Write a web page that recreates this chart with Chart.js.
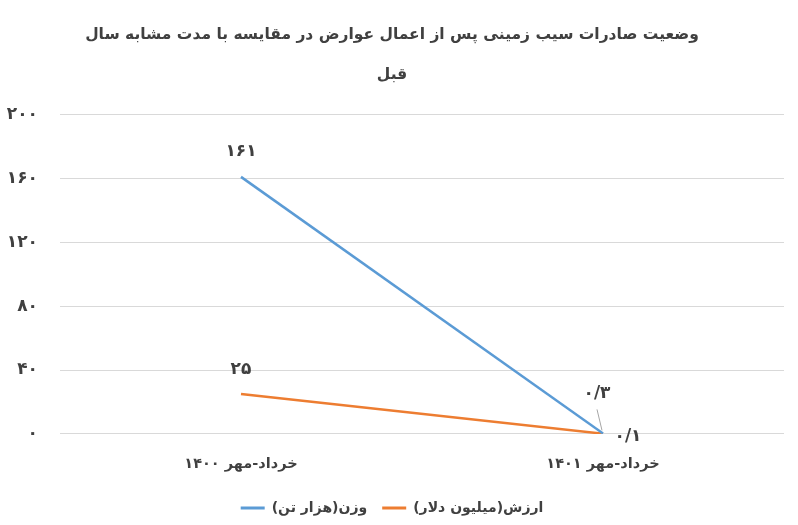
<!DOCTYPE html>
<html>
<head>
<meta charset="utf-8">
<script src="https://cdn.jsdelivr.net/npm/chart.js@4"></script>
<style>
  html, body { margin: 0; padding: 0; background: #fff; }
  #wrap { width: 798px; height: 525px; }
</style>
</head>
<body>
<div id="wrap"><canvas id="c" width="798" height="525"></canvas></div>
<script>
const categories = ['خرداد-مهر ۱۴۰۰', 'خرداد-مهر ۱۴۰۱'];
const weightValues = [161, 0.3];
const valueValues = [25, 0.1];
const weightLabels = ['۱۶۱', '۰/۳'];
const valueLabels = ['۲۵', '۰/۱'];
const seriesNames = ['وزن(هزار تن)', 'ارزش(میلیون دلار)'];
const yTickLabels = ['۰', '۴۰', '۸۰', '۱۲۰', '۱۶۰', '۲۰۰'];
const titleLines = ['وضعیت صادرات سیب زمینی پس از اعمال عوارض در مقایسه با مدت مشابه سال', 'قبل'];

const FONT = '"DejaVu Sans", sans-serif';
const TEXT = '#404040';
const BLUE = '#5B9BD5';
const ORANGE = '#ED7D31';

const labelPlugin = {
  id: 'valueLabels',
  afterDatasetsDraw(chart) {
    const ctx = chart.ctx;
    ctx.save();
    ctx.font = 'bold 17px ' + FONT;
    ctx.fillStyle = TEXT;
    ctx.textBaseline = 'middle';
    ctx.textAlign = 'center';
    ctx.direction = 'rtl';
    const m0 = chart.getDatasetMeta(0).data;
    const m1 = chart.getDatasetMeta(1).data;
    // weight series
    ctx.fillText(weightLabels[0], m0[0].x, m0[0].y - 25);
    ctx.fillText(weightLabels[1], m0[1].x - 6, m0[1].y - 40);
    // leader line
    ctx.strokeStyle = '#A6A6A6';
    ctx.lineWidth = 1;
    ctx.beginPath();
    ctx.moveTo(m0[1].x - 6, m0[1].y - 24);
    ctx.lineTo(m0[1].x - 1, m0[1].y - 3);
    ctx.stroke();
    // value series
    ctx.fillText(valueLabels[0], m1[0].x, m1[0].y - 24);
    ctx.fillText(valueLabels[1], m1[1].x + 25, m1[1].y + 3);
    ctx.restore();
  }
};

new Chart(document.getElementById('c'), {
  type: 'line',
  data: {
    labels: categories,
    datasets: [
      { label: seriesNames[0], data: weightValues, borderColor: BLUE, backgroundColor: BLUE, borderWidth: 2.5, pointRadius: 0, tension: 0 },
      { label: seriesNames[1], data: valueValues, borderColor: ORANGE, backgroundColor: ORANGE, borderWidth: 2.5, pointRadius: 0, tension: 0 }
    ]
  },
  options: {
    responsive: false,
    animation: false,
    layout: { padding: { left: 0, right: 14, top: 0, bottom: 0 } },
    plugins: {
      title: {
        display: true,
        text: titleLines,
        color: TEXT,
        font: { family: FONT, size: 15.5, weight: 'bold', lineHeight: 2.6 },
        padding: { top: 15, bottom: 19 }
      },
      legend: {
        position: 'bottom',
        labels: {
          color: TEXT,
          font: { family: FONT, size: 14, weight: 'bold' },
          boxWidth: 24,
          boxHeight: 3,
          padding: 15,
          generateLabels(chart) {
            return Chart.defaults.plugins.legend.labels.generateLabels(chart).map(l => Object.assign(l, { lineWidth: 0 }));
          }
        }
      },
      tooltip: { enabled: false }
    },
    scales: {
      x: {
        offset: true,
        grid: { display: false },
        border: { display: false },
        ticks: { color: TEXT, font: { family: FONT, size: 14.5, weight: 'bold', lineHeight: 1.25 }, padding: 13 }
      },
      y: {
        min: 0, max: 200,
        ticks: {
          stepSize: 40,
          color: TEXT,
          font: { family: FONT, size: 17, weight: 'bold' },
          padding: 22,
          callback: (v, i) => yTickLabels[i]
        },
        grid: { color: '#D9D9D9', lineWidth: 1, drawTicks: false },
        border: { display: false },
        afterFit(scale) { scale.width = 60; }
      }
    }
  },
  plugins: [labelPlugin]
});
</script>
</body>
</html>
